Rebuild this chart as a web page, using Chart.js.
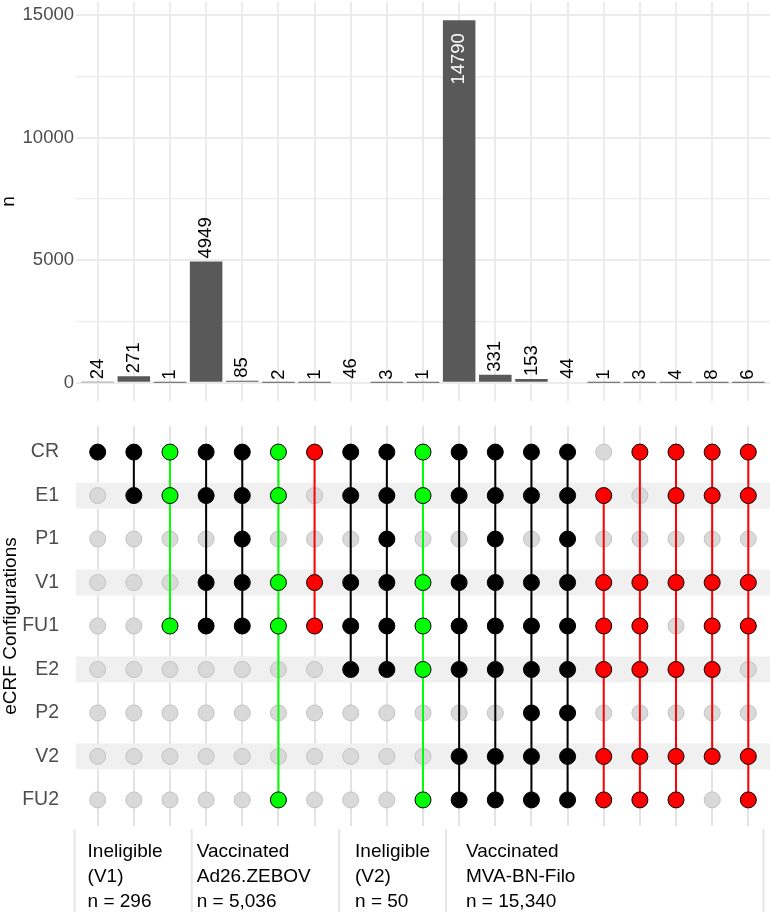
<!DOCTYPE html>
<html>
<head>
<meta charset="utf-8">
<script src="https://cdn.jsdelivr.net/npm/chart.js@4"></script>
<style>
  html, body { margin: 0; padding: 0; background: #fff; }
  #top { position: absolute; left: 0; top: 0; width: 770px; height: 405px; }
  #bottom { position: absolute; left: 0; top: 405px; width: 770px; height: 507px; }
</style>
</head>
<body>
<div id="top"><canvas id="barChart"></canvas></div>
<div id="bottom"><canvas id="matrixChart"></canvas></div>
<script>
// sets (rows of the matrix), top to bottom
const setNames = ['CR', 'E1', 'P1', 'V1', 'FU1', 'E2', 'P2', 'V2', 'FU2'];

// intersection sizes, left to right
const intersectionSizes = [24, 271, 1, 4949, 85, 2, 1, 46, 3, 1, 14790, 331, 153, 44, 1, 3, 4, 8, 6];

// colour class of every intersection
const intersectionColors = ['black', 'black', 'green', 'black', 'black', 'green', 'red', 'black', 'black', 'green',
    'black', 'black', 'black', 'black', 'red', 'red', 'red', 'red', 'red'];

// which sets (row index) take part in each intersection
const memberships = [
    [0],
    [0, 1],
    [0, 1, 4],
    [0, 1, 3, 4],
    [0, 1, 2, 3, 4],
    [0, 1, 3, 4, 8],
    [0, 3, 4],
    [0, 1, 3, 4, 5],
    [0, 1, 2, 3, 4, 5],
    [0, 1, 3, 4, 5, 8],
    [0, 1, 3, 4, 5, 7, 8],
    [0, 1, 2, 3, 4, 5, 7, 8],
    [0, 1, 3, 4, 5, 6, 7, 8],
    [0, 1, 2, 3, 4, 5, 6, 7, 8],
    [1, 3, 4, 5, 7, 8],
    [0, 3, 4, 5, 7, 8],
    [0, 1, 3, 5, 7, 8],
    [0, 1, 3, 4, 5, 7],
    [0, 1, 3, 4, 7, 8]
];

// y axis of the bar panel
const yTickValues = [0, 2500, 5000, 7500, 10000, 12500, 15000];
const yTickMajor = [0, 5000, 10000, 15000];

// groups shown under the matrix
const groupTitles = [['Ineligible', '(V1)'], ['Vaccinated', 'Ad26.ZEBOV'], ['Ineligible', '(V2)'], ['Vaccinated', 'MVA-BN-Filo']];
const groupCounts = [296, 5036, 50, 15340];

// layout of the group strip, in column units
const groupEdges = [-0.64, 2.6, 6.68, 9.64, 18.42];
const groupTextStart = [-0.28, 2.74, 7.12, 10.19];

const FONT = "'Liberation Sans', Arial, sans-serif";
Chart.defaults.font.family = FONT;

const colorMap = { black: '#000000', green: '#00ff00', red: '#ff0000' };
const X_MIN = -0.6;
const X_MAX = intersectionSizes.length - 0.4;

const noPadX = s => { s.paddingLeft = 0; s.paddingRight = 0; };
const fitY = s => { s.width = 76; s.paddingTop = 0; s.paddingBottom = 0; };

// rotated count labels above the bars
const barLabels = {
    id: 'barLabels',
    afterDatasetsDraw(chart) {
        const ctx = chart.ctx;
        const meta = chart.getDatasetMeta(0);
        ctx.save();
        ctx.font = '18.5px ' + FONT;
        ctx.textBaseline = 'middle';
        meta.data.forEach((bar, i) => {
            const v = intersectionSizes[i];
            ctx.save();
            ctx.translate(bar.x, bar.y);
            ctx.rotate(-Math.PI / 2);
            if (v > 10000) {
                ctx.textAlign = 'right';
                ctx.fillStyle = '#ffffff';
                ctx.fillText(String(v), -13, 0);
            } else {
                ctx.textAlign = 'left';
                ctx.fillStyle = '#000000';
                ctx.fillText(String(v), 3, 0);
            }
            ctx.restore();
        });
        ctx.restore();
    }
};

new Chart(document.getElementById('barChart'), {
    type: 'bar',
    data: {
        datasets: [{
            data: intersectionSizes.map((v, i) => ({ x: i, y: v })),
            backgroundColor: '#595959',
            barPercentage: 0.9,
            categoryPercentage: 1
        }]
    },
    options: {
        responsive: true,
        maintainAspectRatio: false,
        animation: false,
        layout: { padding: { top: 2, bottom: 4, left: 0, right: 0 }, autoPadding: false },
        plugins: { legend: { display: false }, tooltip: { enabled: false } },
        scales: {
            x: {
                type: 'linear', min: X_MIN, max: X_MAX, offset: false,
                ticks: { display: false, stepSize: 1, includeBounds: false },
                grid: { color: '#ebebeb', lineWidth: 2, drawTicks: false, offset: false },
                border: { display: false },
                afterFit: noPadX
            },
            y: {
                min: -740, max: 15530,
                afterBuildTicks: s => { s.ticks = yTickValues.map(v => ({ value: v })); },
                ticks: {
                    padding: 2, color: '#4d4d4d',
                    font: { size: 18.5 },
                    callback: v => (yTickMajor.includes(v) ? String(v) : '')
                },
                grid: {
                    color: '#ebebeb', drawTicks: false,
                    lineWidth: c => (c.tick && yTickMajor.includes(c.tick.value) ? 2 : 1.2)
                },
                border: { display: false },
                title: { display: true, text: 'n', color: '#000', font: { size: 19, lineHeight: 0.9 }, padding: 0 },
                afterFit: fitY
            }
        }
    },
    plugins: [barLabels]
});

// matrix datasets built from the memberships
const lineSets = memberships.map((rows, i) => ({
    data: [{ x: i, y: Math.min(...rows) }, { x: i, y: Math.max(...rows) }],
    showLine: true,
    borderColor: colorMap[intersectionColors[i]],
    borderWidth: 2,
    pointRadius: 0,
    order: 1
}));
const inactive = [];
const active = { black: [], green: [], red: [] };
memberships.forEach((rows, i) => {
    setNames.forEach((_, r) => {
        if (rows.includes(r)) active[intersectionColors[i]].push({ x: i, y: r });
        else inactive.push({ x: i, y: r });
    });
});
const pointSets = Object.keys(active).map(k => ({
    data: active[k],
    backgroundColor: colorMap[k],
    borderColor: '#000000',
    borderWidth: 1,
    pointRadius: 8,
    order: 0
}));
const inactiveSet = {
    data: inactive,
    backgroundColor: '#d9d9d9',
    borderColor: '#c2c2c2',
    borderWidth: 1,
    pointRadius: 8,
    order: 2
};

// shaded bands behind every second row
const rowStripes = {
    id: 'rowStripes',
    beforeDatasetsDraw(chart) {
        const { ctx, chartArea, scales } = chart;
        ctx.save();
        ctx.fillStyle = '#f0f0f0';
        setNames.forEach((_, r) => {
            if (r % 2 === 1) {
                const y = scales.y.getPixelForValue(r);
                ctx.fillRect(chartArea.left, y - 13, chartArea.right - chartArea.left, 26);
            }
        });
        ctx.restore();
    }
};

// group separators and captions under the matrix
const groupStrip = {
    id: 'groupStrip',
    afterDraw(chart) {
        const { ctx, chartArea, scales } = chart;
        const x = scales.x;
        ctx.save();
        ctx.strokeStyle = '#e6e6e6';
        ctx.lineWidth = 2;
        groupEdges.forEach(e => {
            const px = x.getPixelForValue(e);
            ctx.beginPath();
            ctx.moveTo(px, chartArea.bottom + 3);
            ctx.lineTo(px, chart.height);
            ctx.stroke();
        });
        ctx.fillStyle = '#000000';
        ctx.font = '19px ' + FONT;
        ctx.textAlign = 'left';
        ctx.textBaseline = 'middle';
        groupTitles.forEach((lines, g) => {
            const px = x.getPixelForValue(groupTextStart[g]);
            const rows = lines.concat(['n = ' + groupCounts[g].toLocaleString('en-US')]);
            rows.forEach((t, k) => ctx.fillText(t, px, chartArea.bottom + 26 + k * 25));
        });
        ctx.restore();
    }
};

new Chart(document.getElementById('matrixChart'), {
    type: 'scatter',
    data: { datasets: [...pointSets, ...lineSets, inactiveSet] },
    options: {
        responsive: true,
        maintainAspectRatio: false,
        animation: false,
        layout: { padding: { top: 21, bottom: 86, left: 0, right: 0 }, autoPadding: false },
        plugins: { legend: { display: false }, tooltip: { enabled: false } },
        scales: {
            x: {
                type: 'linear', min: X_MIN, max: X_MAX,
                ticks: { display: false, stepSize: 1, includeBounds: false },
                grid: { color: '#e3e3e3', lineWidth: 2, drawTicks: false },
                border: { display: false },
                afterFit: noPadX
            },
            y: {
                type: 'linear', min: -0.6, max: 8.6, reverse: true,
                ticks: {
                    stepSize: 1, includeBounds: false, padding: 9, color: '#4d4d4d',
                    font: { size: 19.5 },
                    callback: v => setNames[v]
                },
                grid: { display: false },
                border: { display: false },
                title: { display: true, text: 'eCRF Configurations', color: '#000', font: { size: 19, lineHeight: 1 }, padding: { top: 1, bottom: 0 } },
                afterFit: fitY
            }
        }
    },
    plugins: [rowStripes, groupStrip]
});
</script>
</body>
</html>
